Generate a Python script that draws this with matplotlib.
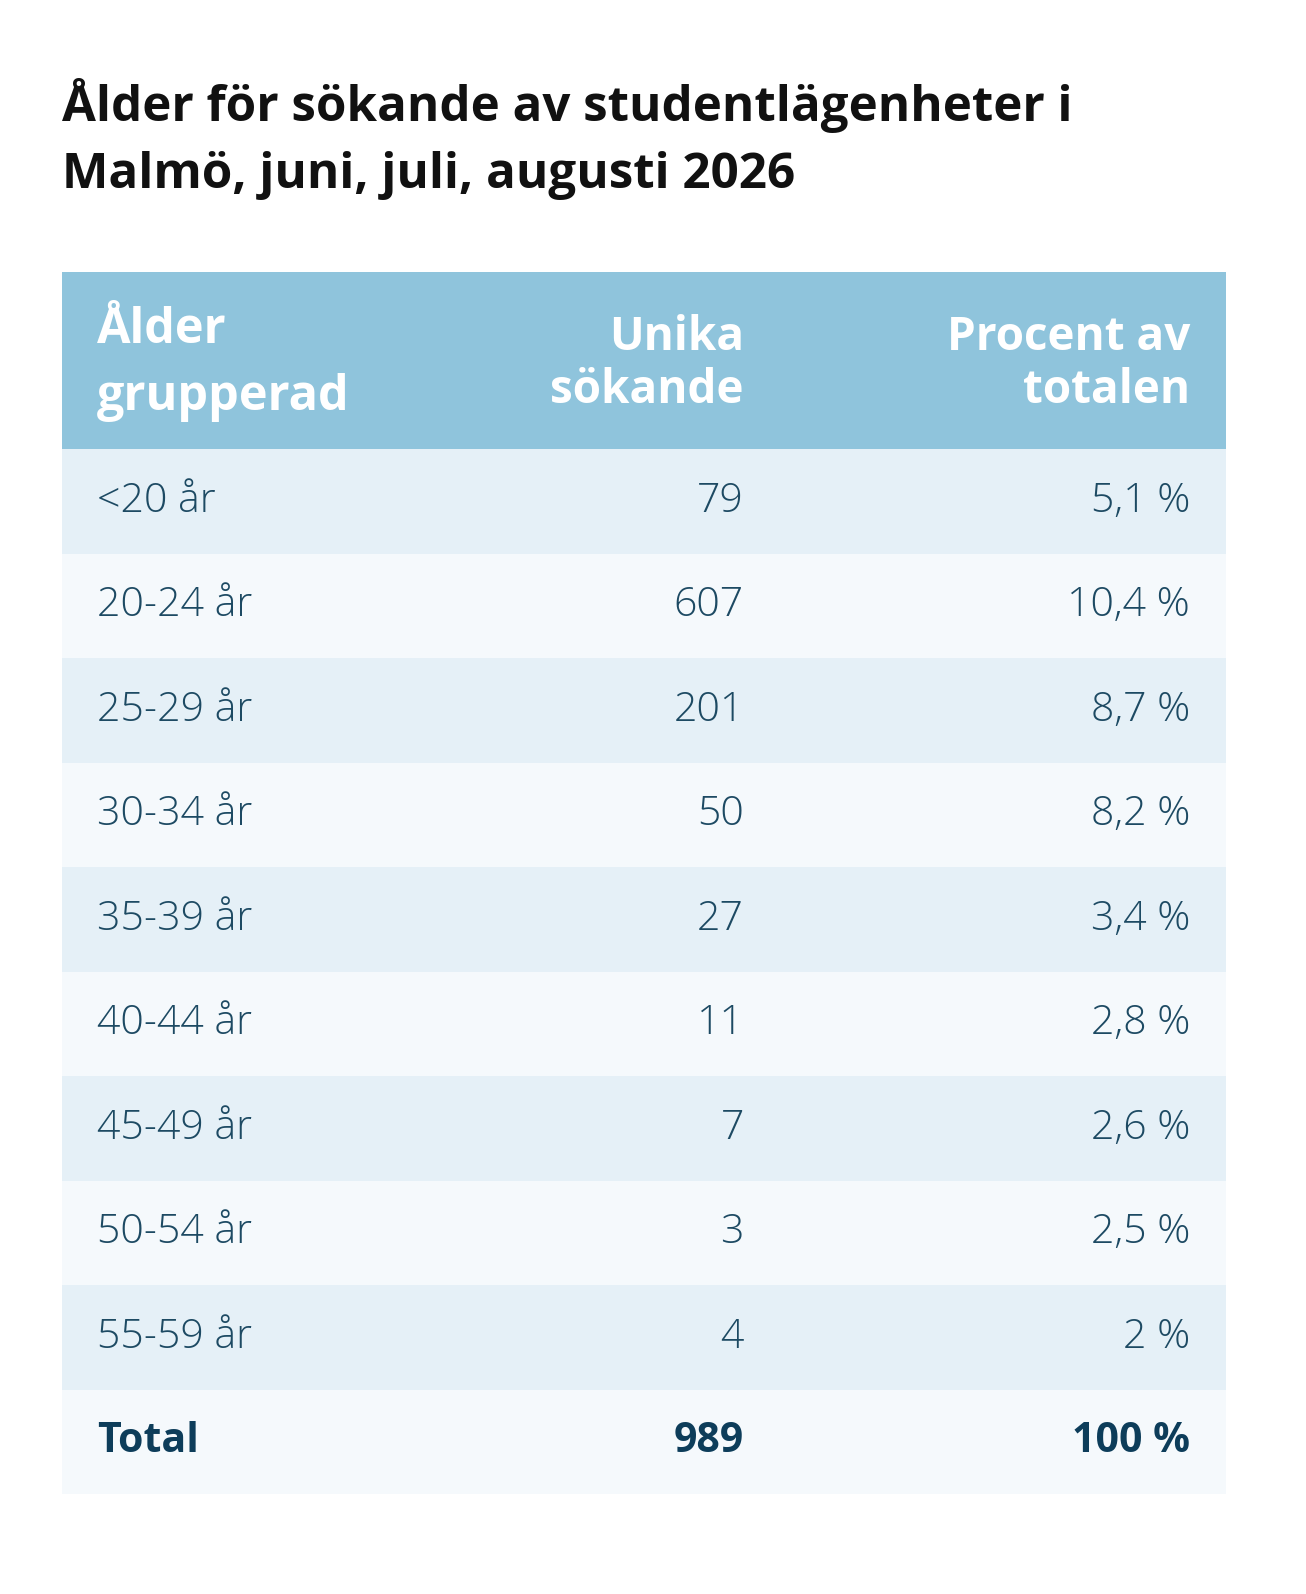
import matplotlib
matplotlib.use("Agg")
import matplotlib.pyplot as plt
from matplotlib.patches import Rectangle

title = ["Ålder för sökande av studentlägenheter i", "Malmö, juni, juli, augusti 2026"]
headers = [["Ålder", "grupperad"], ["Unika", "sökande"], ["Procent av", "totalen"]]
age_groups = ["<20 år", "20-24 år", "25-29 år", "30-34 år", "35-39 år",
              "40-44 år", "45-49 år", "50-54 år", "55-59 år"]
applicants = [79, 607, 201, 50, 27, 11, 7, 3, 4]
percent = ["5,1 %", "10,4 %", "8,7 %", "8,2 %", "3,4 %", "2,8 %", "2,6 %", "2,5 %", "2 %"]
total_label, total_count, total_pct = "Total", 989, "100 %"

W, H = 1306, 1594
plt.rcParams['font.family'] = ['Open Sans', 'DejaVu Sans']
fig = plt.figure(figsize=(W/100, H/100), dpi=100)
ax = fig.add_axes([0, 0, 1, 1])
ax.set_xlim(0, W); ax.set_ylim(H, 0); ax.axis("off")

ax.text(62, 105, title[0], fontsize=35.5, fontweight="bold", va="center", color="#111111")
ax.text(62, 175, title[1], fontsize=35.5, fontweight="bold", va="center", color="#111111")

L, R = 62, 1226
htop, hbot = 272, 449
ax.add_patch(Rectangle((L, htop), R-L, hbot-htop, color="#8fc4dc", lw=0))
hc = "white"
ax.text(97, 330, headers[0][0], fontsize=35, fontweight="bold", color=hc, va="center", ha="left")
ax.text(97, 397, headers[0][1], fontsize=35, fontweight="bold", color=hc, va="center", ha="left")
for x, h in [(744, headers[1]), (1190, headers[2])]:
    ax.text(x, 337, h[0], fontsize=33, fontweight="bold", color=hc, va="center", ha="right")
    ax.text(x, 390, h[1], fontsize=33, fontweight="bold", color=hc, va="center", ha="right")

rh = (1494 - hbot) / 10
rows = list(zip(age_groups, [str(a) for a in applicants], percent)) + [(total_label, str(total_count), total_pct)]
for i, (a, b, c) in enumerate(rows):
    y0 = hbot + i*rh
    ax.add_patch(Rectangle((L, y0), R-L, rh, color="#e5f0f7" if i % 2 == 0 else "#f5f9fc", lw=0))
    yc = y0 + rh/2
    bold = i == len(rows)-1
    kw = dict(fontsize=29.5, va="center", color="#0d3d5a" if bold else "#1d4a63",
              fontweight="bold" if bold else "light")
    ax.text(97, yc, a, ha="left", **kw)
    ax.text(744, yc, b, ha="right", **kw)
    ax.text(1190, yc, c, ha="right", **kw)

fig.savefig("out.png", dpi=100, facecolor="white")
